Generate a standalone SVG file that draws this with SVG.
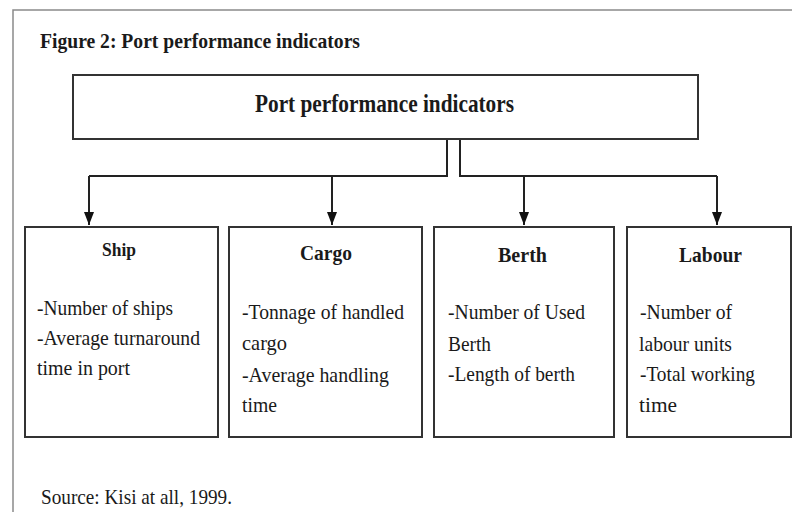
<svg xmlns="http://www.w3.org/2000/svg" width="792" height="512" viewBox="0 0 792 512">
<style>
text{font-family:"Liberation Serif","Times New Roman",serif;fill:#1a1a1a}
.b{font-weight:bold}
.box{fill:#fff;stroke:#333;stroke-width:2}
.frame{stroke:#8a8a8a;stroke-width:1.5;fill:none}
.conn{stroke:#222;stroke-width:2;fill:none}
.body{font-size:21px}
</style>
<defs>
<marker id="arr" markerWidth="13" markerHeight="10" refX="13" refY="5" orient="auto" markerUnits="userSpaceOnUse" viewBox="0 0 13 10">
<path d="M0,0 L13,5 L0,10 Z" fill="#111"/>
</marker>
</defs>
<rect width="792" height="512" fill="#fff"/>
<path class="frame" d="M13,512 L13,10 L792,10"/>
<text class="b" x="40" y="48" font-size="21" textLength="320" lengthAdjust="spacingAndGlyphs">Figure 2: Port performance indicators</text>

<g id="connectors">
<path class="conn" d="M447,139 L447,176 L89,176"/>
<path class="conn" d="M460,139 L460,176 L717,176"/>
<path class="conn" d="M89,176 L89,225" marker-end="url(#arr)"/>
<path class="conn" d="M332,176 L332,225" marker-end="url(#arr)"/>
<path class="conn" d="M524,176 L524,225" marker-end="url(#arr)"/>
<path class="conn" d="M717,176 L717,225" marker-end="url(#arr)"/>
</g>

<g id="root">
<rect class="box" x="73" y="75" width="625" height="64"/>
<text class="b" x="255" y="112" font-size="25" textLength="259" lengthAdjust="spacingAndGlyphs">Port performance indicators</text>
</g>

<g id="ship">
<rect class="box" x="25" y="227" width="193" height="210"/>
<text class="b" x="102" y="256" font-size="19" textLength="34" lengthAdjust="spacingAndGlyphs">Ship</text>
<text class="body" x="37" y="315" textLength="136" lengthAdjust="spacingAndGlyphs">-Number of ships</text>
<text class="body" x="37" y="345" textLength="163" lengthAdjust="spacingAndGlyphs">-Average turnaround</text>
<text class="body" x="37" y="375" textLength="93" lengthAdjust="spacingAndGlyphs">time in port</text>
</g>

<g id="cargo">
<rect class="box" x="229" y="227" width="193" height="210"/>
<text class="b" x="300" y="260" font-size="22" textLength="52" lengthAdjust="spacingAndGlyphs">Cargo</text>
<text class="body" x="242" y="319" textLength="162" lengthAdjust="spacingAndGlyphs">-Tonnage of handled</text>
<text class="body" x="242" y="350" textLength="45" lengthAdjust="spacingAndGlyphs">cargo</text>
<text class="body" x="242" y="382" textLength="147" lengthAdjust="spacingAndGlyphs">-Average handling</text>
<text class="body" x="242" y="412" textLength="35" lengthAdjust="spacingAndGlyphs">time</text>
</g>

<g id="berth">
<rect class="box" x="434" y="227" width="180" height="210"/>
<text class="b" x="498" y="262" font-size="22" textLength="49" lengthAdjust="spacingAndGlyphs">Berth</text>
<text class="body" x="448" y="319" textLength="137" lengthAdjust="spacingAndGlyphs">-Number of Used</text>
<text class="body" x="448" y="351" textLength="43" lengthAdjust="spacingAndGlyphs">Berth</text>
<text class="body" x="448" y="381" textLength="127" lengthAdjust="spacingAndGlyphs">-Length of berth</text>
</g>

<g id="labour">
<rect class="box" x="627" y="227" width="164" height="210"/>
<text class="b" x="679" y="262" font-size="22" textLength="63" lengthAdjust="spacingAndGlyphs">Labour</text>
<text class="body" x="640" y="319" textLength="92" lengthAdjust="spacingAndGlyphs">-Number of</text>
<text class="body" x="639" y="351" textLength="93" lengthAdjust="spacingAndGlyphs">labour units</text>
<text class="body" x="640" y="381" textLength="115" lengthAdjust="spacingAndGlyphs">-Total working</text>
<text class="body" x="639" y="412" textLength="38" lengthAdjust="spacingAndGlyphs">time</text>
</g>

<text x="41" y="504" font-size="22" textLength="191" lengthAdjust="spacingAndGlyphs">Source: Kisi at all, 1999.</text>
</svg>
